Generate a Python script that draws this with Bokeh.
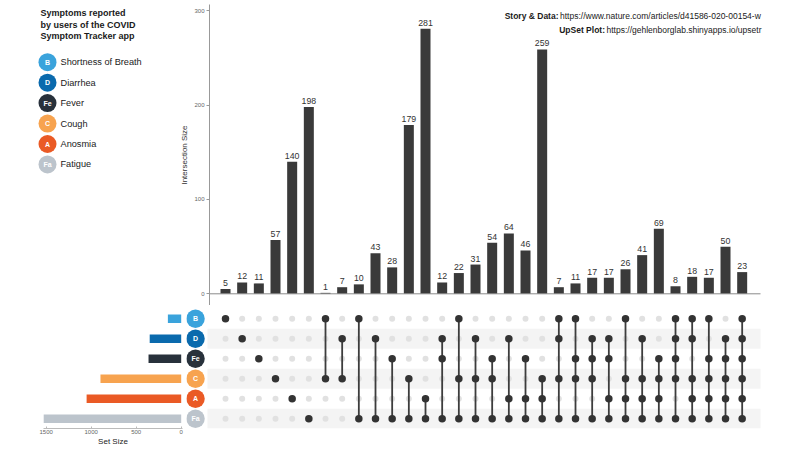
from bokeh.plotting import figure
from bokeh.layouts import row, column
from bokeh.models import Range1d, FixedTicker, Label, ColumnDataSource
from bokeh.embed import file_html
from bokeh.resources import INLINE
from bokeh.core.properties import value

# ---------------- data ----------------
set_codes = ["B", "D", "Fe", "C", "A", "Fa"]
set_names = ["Shortness of Breath", "Diarrhea", "Fever", "Cough", "Anosmia", "Fatigue"]
set_colors = ["#3aa3dc", "#0a6aad", "#28313b", "#f7a34f", "#ea5a25", "#bcc4cc"]
set_sizes = [148, 350, 363, 897, 1051, 1531]

intersection_sets = [
    ["B"], ["D"], ["Fe"], ["C"], ["A"], ["Fa"],
    ["B", "C"], ["D", "C"], ["B", "Fa"], ["D", "Fa"], ["Fe", "Fa"], ["C", "Fa"], ["A", "Fa"],
    ["D", "Fe", "Fa"], ["B", "C", "Fa"], ["D", "C", "Fa"], ["Fe", "C", "Fa"],
    ["D", "A", "Fa"], ["Fe", "A", "Fa"], ["C", "A", "Fa"],
    ["B", "D", "C", "Fa"], ["B", "Fe", "C", "Fa"], ["D", "Fe", "C", "Fa"], ["D", "Fe", "A", "Fa"],
    ["B", "C", "A", "Fa"], ["D", "C", "A", "Fa"], ["Fe", "C", "A", "Fa"],
    ["B", "D", "Fe", "C", "Fa"], ["B", "D", "C", "A", "Fa"], ["B", "Fe", "C", "A", "Fa"],
    ["D", "Fe", "C", "A", "Fa"],
    ["B", "D", "Fe", "C", "A", "Fa"],
]
intersection_sizes = [5, 12, 11, 57, 140, 198, 1, 7, 10, 43, 28, 179, 281, 12, 22, 31, 54,
                      64, 46, 259, 7, 11, 17, 17, 26, 41, 69, 8, 18, 17, 50, 23]
count_ticks = [0, 100, 200, 300]
setsize_ticks = [0, 500, 1000, 1500]

title_lines = ["Symptoms reported", "by users of the COVID", "Symptom Tracker app"]
credit_labels = ["Story & Data:", "UpSet Plot:"]
credit_urls = ["https://www.nature.com/articles/d41586-020-00154-w",
               "https://gehlenborglab.shinyapps.io/upsetr"]

# ---------------- layout constants (pixels, page coords) ----------------
FONT = "Liberation Sans"
TOTAL_W, TOTAL_H = 800, 450
TOP_H = 305
BOT_H = TOTAL_H - TOP_H
TOP_BORDER = 4
LEG_W = 168
SS_W = 186
COL1_PX = 225.0
COL_PX = 16.667
ROW0_PX = 318.3
ROW_PX = 20.0
BAR_FRAME_L = 209
FRAME_R = 766
LINE_R = 760
BASE_PX = 293.3
TOP300_PX = 10.3
CNT_SCALE = (BASE_PX - TOP300_PX) / 300.0
BOT_BORDER = 22
BOT_FRAME_B = TOTAL_H - BOT_BORDER

ncol = len(intersection_sizes)
cols = list(range(1, ncol + 1))


def col_at(px):
    return 1 + (px - COL1_PX) / COL_PX


def row_at(py):
    return (py - ROW0_PX) / ROW_PX


def cnt_at(py):
    return (BASE_PX - py) / CNT_SCALE


def base_fig(w, h, xr, yr, **kw):
    p = figure(width=w, height=h, x_range=xr, y_range=yr, toolbar_location=None,
               output_backend="svg", **kw)
    p.outline_line_color = None
    p.background_fill_color = "white"
    p.border_fill_color = "white"
    p.grid.visible = False
    return p


# ---------------- legend figure ----------------
leg = base_fig(LEG_W, TOP_H, Range1d(0, LEG_W), Range1d(TOP_H, TOP_BORDER),
               x_axis_location=None, y_axis_location=None,
               min_border_left=0, min_border_right=0, min_border_top=TOP_BORDER,
               min_border_bottom=0)
leg.text(x=[40] * len(title_lines),
         y=[12.5 + 11.5 * i for i in range(len(title_lines))],
         text=title_lines, text_font=value(FONT), text_font_size=value("9px"),
         text_font_style="bold", text_color="#1a1a1a", text_baseline="middle")
leg_y = [61.7 + 20.45 * i for i in range(len(set_codes))]
leg.scatter(x=[47] * len(set_codes), y=leg_y, size=18, fill_color=set_colors,
            line_color=None)
leg.text(x=[47] * len(set_codes), y=leg_y, text=set_codes, text_font=value(FONT),
         text_font_size=value("7px"), text_font_style="bold", text_color="white",
         text_align="center", text_baseline="middle")
leg.text(x=[60] * len(set_codes), y=leg_y, text=set_names, text_font=value(FONT),
         text_font_size=value("9.2px"), text_color="#1a1a1a", text_baseline="middle")

# ---------------- intersection bar chart ----------------
bar = base_fig(TOTAL_W - LEG_W, TOP_H,
               Range1d(col_at(BAR_FRAME_L), col_at(FRAME_R)),
               Range1d(cnt_at(TOP_H), cnt_at(TOP_BORDER)),
               x_axis_location=None,
               min_border_left=BAR_FRAME_L - LEG_W, min_border_right=TOTAL_W - FRAME_R,
               min_border_top=TOP_BORDER, min_border_bottom=0)
bsrc = ColumnDataSource(dict(x=cols, top=intersection_sizes,
                             lab=[str(v) for v in intersection_sizes]))
bar.vbar(x="x", top="top", bottom=0, width=0.6, source=bsrc, fill_color="#3a3a3a",
         line_color=None)
bar.text(x="x", y="top", text="lab", source=bsrc, y_offset=-3, text_font=value(FONT),
         text_font_size=value("8.8px"), text_color="#333333", text_align="center",
         text_baseline="bottom")
bar.segment(x0=[col_at(BAR_FRAME_L)], y0=[0], x1=[col_at(LINE_R)], y1=[0],
            line_color="#8a8a8a", line_width=1)
ya = bar.yaxis[0]
ya.ticker = FixedTicker(ticks=count_ticks)
ya.major_label_text_font = FONT
ya.major_label_text_font_size = "6px"
ya.major_label_text_color = "#666666"
ya.axis_line_color = "#999999"
ya.major_tick_line_color = "#999999"
ya.major_tick_out = 3
ya.major_tick_in = 0
ya.minor_tick_line_color = None
ya.major_label_standoff = 2
ya.axis_label = "Intersection Size"
ya.axis_label_text_font = FONT
ya.axis_label_text_font_size = "8px"
ya.axis_label_text_font_style = "normal"
ya.axis_label_text_color = "#333333"
ya.axis_label_standoff = 2

url_lefts = [559.5, 606.0]
for i in range(len(credit_labels)):
    py = 15.3 + 14.0 * i
    bar.add_layout(Label(x=col_at(url_lefts[i] - 1.5), y=cnt_at(py), text=credit_labels[i],
                         text_font=FONT, text_font_size="8.5px", text_font_style="bold",
                         text_color="#1a1a1a", text_align="right", text_baseline="middle"))
    bar.add_layout(Label(x=col_at(url_lefts[i]), y=cnt_at(py), text=credit_urls[i],
                         text_font=FONT, text_font_size="8.5px", text_color="#1a1a1a",
                         text_align="left", text_baseline="middle"))

# ---------------- set size figure ----------------
SS_FRAME_L, SS_FRAME_R = 43, 182
SS_ZERO = 180.7
SS_SCALE = 0.09
ss = base_fig(SS_W, BOT_H,
              Range1d((SS_ZERO - SS_FRAME_L) / SS_SCALE, (SS_ZERO - SS_FRAME_R) / SS_SCALE),
              Range1d(row_at(BOT_FRAME_B), row_at(TOP_H)),
              y_axis_location=None,
              min_border_left=SS_FRAME_L, min_border_right=SS_W - SS_FRAME_R,
              min_border_top=0, min_border_bottom=BOT_BORDER)
rows = list(range(len(set_codes)))
ss.hbar(y=rows, left=0, right=set_sizes, height=0.42, fill_color=set_colors, line_color=None)
xa = ss.xaxis[0]
xa.ticker = FixedTicker(ticks=setsize_ticks)
xa.major_label_text_font = FONT
xa.major_label_text_font_size = "6px"
xa.major_label_text_color = "#666666"
xa.axis_line_color = "#bbbbbb"
xa.major_tick_line_color = "#bbbbbb"
xa.major_tick_out = 0
xa.major_tick_in = 2
xa.minor_tick_line_color = None
xa.major_label_standoff = 1
xa.axis_label = "Set Size"
xa.axis_label_text_font = FONT
xa.axis_label_text_font_size = "8px"
xa.axis_label_text_font_style = "normal"
xa.axis_label_text_color = "#222222"
xa.axis_label_standoff = 0

# ---------------- matrix figure ----------------
mat = base_fig(TOTAL_W - SS_W, BOT_H,
               Range1d(col_at(SS_W), col_at(FRAME_R)),
               Range1d(row_at(BOT_FRAME_B), row_at(TOP_H)),
               x_axis_location=None, y_axis_location=None,
               min_border_left=0, min_border_right=TOTAL_W - FRAME_R,
               min_border_top=0, min_border_bottom=BOT_BORDER)
stripe_rows = [r for r in rows if r % 2 == 1]
mat.hbar(y=stripe_rows, left=col_at(207), right=col_at(LINE_R), height=1.0,
         fill_color="#f4f4f4", line_color=None)
label_x = col_at(195)
mat.scatter(x=[label_x] * len(rows), y=rows, size=18.5, fill_color=set_colors, line_color=None)
mat.text(x=[label_x] * len(rows), y=rows, text=set_codes, text_font=value(FONT),
         text_font_size=value("7px"), text_font_style="bold", text_color="white",
         text_align="center", text_baseline="middle")

gx, gy, ax, ay = [], [], [], []
sx0, sy0, sy1 = [], [], []
for c, members in zip(cols, intersection_sets):
    idx = [set_codes.index(m) for m in members]
    for r in rows:
        if r in idx:
            ax.append(c); ay.append(r)
        else:
            gx.append(c); gy.append(r)
    if len(idx) > 1:
        sx0.append(c); sy0.append(min(idx)); sy1.append(max(idx))
mat.scatter(x=gx, y=gy, size=6, fill_color="#e1e1e1", line_color=None)
mat.segment(x0=sx0, y0=sy0, x1=sx0, y1=sy1, line_color="#3d3d3d", line_width=1.8)
mat.scatter(x=ax, y=ay, size=7.5, fill_color="#333333", line_color=None)

layout = column(row(leg, bar), row(ss, mat))
open("out.html", "w").write(file_html(layout, INLINE))
